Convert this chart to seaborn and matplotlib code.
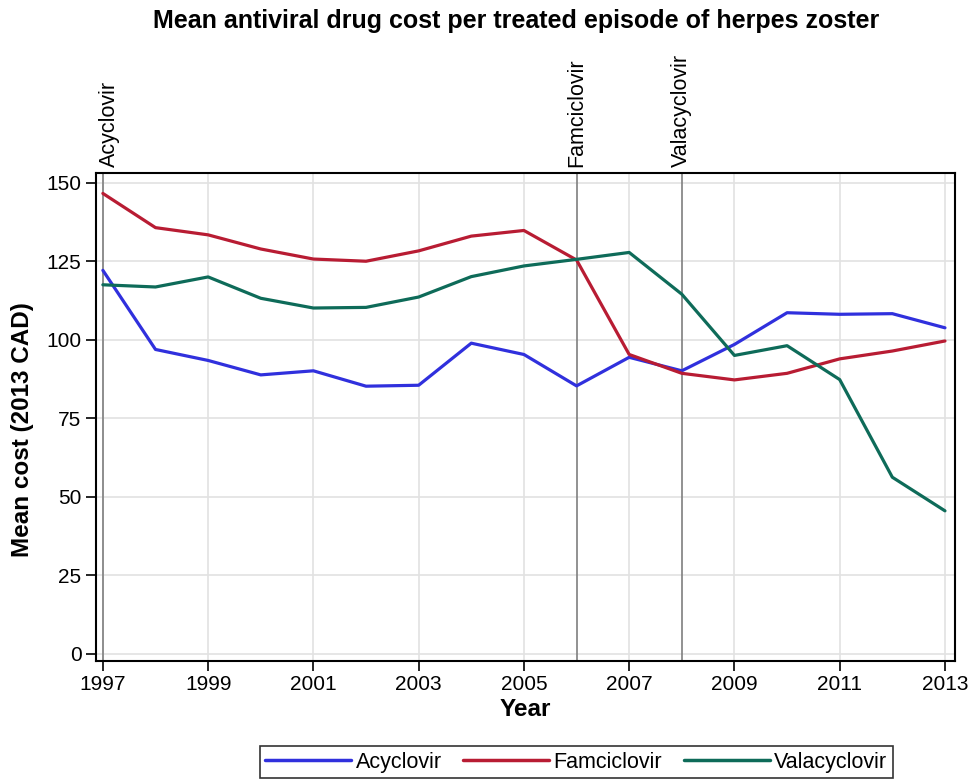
"""
Mean antiviral drug cost per treated episode of herpes zoster
"""

import numpy as np
import pandas as pd
import matplotlib
matplotlib.use("Agg")
import matplotlib.pyplot as plt
import seaborn as sns

years = list(range(1997, 2014))
acyclovir = [122.1, 96.9, 93.4, 88.8, 90.1, 85.2, 85.5, 98.9, 95.3,
             85.3, 94.4, 90.1, 98.5, 108.6, 108.1, 108.3, 103.8]
famciclovir = [146.6, 135.7, 133.4, 128.9, 125.7, 125.0, 128.3, 133.0, 134.8,
               125.4, 95.3, 89.3, 87.2, 89.3, 93.9, 96.4, 99.6]
valacyclovir = [117.5, 116.8, 120.0, 113.2, 110.1, 110.3, 113.6, 120.1, 123.5,
                125.6, 127.8, 114.5, 95.0, 98.1, 87.3, 56.2, 45.5]

drugs = ["Acyclovir", "Famciclovir", "Valacyclovir"]
colors = ["#3030DD", "#B81C33", "#0E6B59"]
intro_years = [1997, 2006, 2008]
x_ticks = list(range(1997, 2014, 2))
y_ticks = [0, 25, 50, 75, 100, 125, 150]

# long-form table for seaborn
df = pd.DataFrame({
    "Year": years * 3,
    "Cost": acyclovir + famciclovir + valacyclovir,
    "Drug": [d for d in drugs for _ in years],
})

sns.set_style("white")
plt.rcParams['font.family'] = ['Liberation Sans', 'DejaVu Sans']
plt.rcParams['text.color'] = 'black'
plt.rcParams['axes.labelcolor'] = 'black'

fig = plt.figure(figsize=(9.7, 7.79), dpi=100)
ax = fig.add_axes([0.099, 0.152, 0.8855, 0.6255])

# grid first so it sits under the lines
for xt in x_ticks:
    ax.axvline(xt, color="#e2e2e2", lw=1.2, zorder=0)
for yt in y_ticks:
    ax.axhline(yt, color="#e2e2e2", lw=1.2, zorder=0)

# drug introduction markers
for yr, name in zip(intro_years, drugs):
    ax.axvline(yr, color="#7f7f7f", lw=1.2, zorder=1)
    dx = 0.12 if yr == 1997 else 0.0
    ax.text(yr + dx, 1.012, name, rotation=90, ha="center", va="bottom",
            fontsize=15.5, transform=ax.get_xaxis_transform())

sns.lineplot(data=df, x="Year", y="Cost", hue="Drug", hue_order=drugs,
             palette=colors, lw=2.3, ax=ax, legend=False, zorder=3)

ax.set_xlim(1996.87, 2013.19)
ax.set_ylim(-2.2, 153)
ax.set_xticks(x_ticks)
ax.set_yticks(y_ticks)
ax.tick_params(axis="both", direction="out", length=7, width=1.2,
               labelsize=15, colors="black")
ax.tick_params(axis="both", left=True, bottom=True)
for sp in ax.spines.values():
    sp.set_color("black")
    sp.set_linewidth(1.5)

ax.set_xlabel("Year", fontsize=17.5, fontweight="bold", labelpad=3)
ax.set_ylabel("Mean cost (2013 CAD)", fontsize=17.5, fontweight="bold")
ax.yaxis.set_label_coords(-0.072, 0.475)

fig.suptitle("Mean antiviral drug cost per treated episode of herpes zoster",
             x=0.532, y=0.988, fontsize=18, fontweight="bold")

handles = [plt.Line2D([0], [0], color=c, lw=2.5) for c in colors]
leg = fig.legend(handles, drugs, loc="center", bbox_to_anchor=(0.594, 0.0215),
                 ncol=3, frameon=True, fancybox=False, fontsize=15.5,
                 handlelength=4.0, handletextpad=0.2, columnspacing=1.0,
                 borderpad=0.25)
leg.get_frame().set_edgecolor("black")
leg.get_frame().set_linewidth(1.2)

fig.savefig("out.png", dpi=100)
